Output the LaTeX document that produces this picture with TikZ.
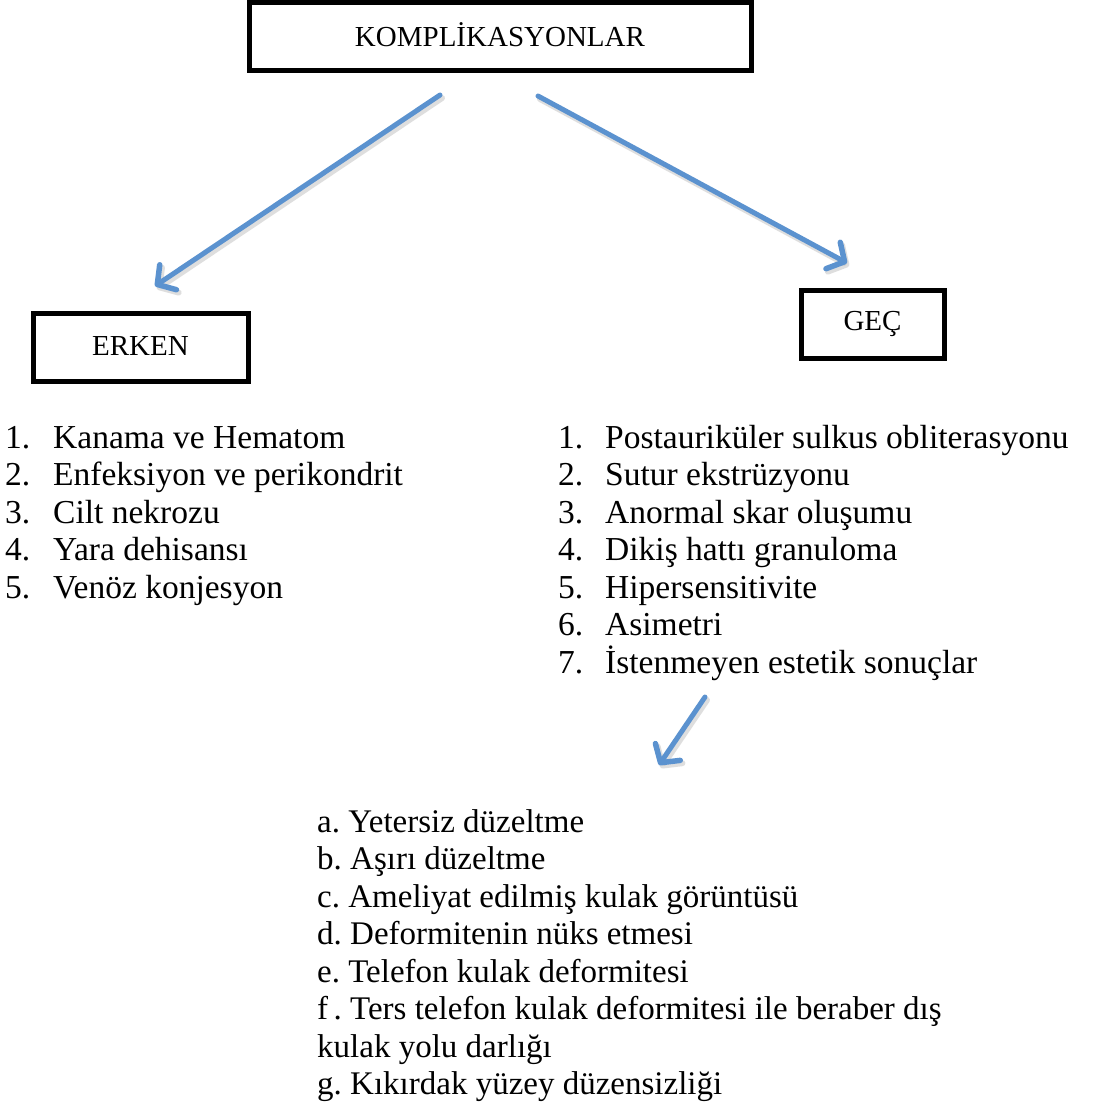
\documentclass[tikz,border=0pt]{standalone}
\usepackage{fontspec}
\setmainfont{Liberation Serif}
\usetikzlibrary{arrows.meta}
\frenchspacing
\definecolor{arrowblue}{RGB}{91,146,207}
\tikzset{
  boxnode/.style={draw=black, line width=5pt, minimum height=68pt, inner sep=0pt, font=\fontsize{29}{34}\selectfont},
  listtext/.style={anchor=base west, inner sep=0pt, font=\fontsize{33.5}{38}\selectfont},
  sublisttext/.style={anchor=base west, inner sep=0pt, font=\fontsize{33}{38}\selectfont},
  bluearrow/.style={draw=arrowblue, line width=5pt, line cap=round,
    -{Straight Barb[length=13pt,width=30pt,line width=5.5pt,round]}},
  arrowshadow/.style={draw=black!25, line width=6pt, opacity=0.5, line cap=round,
    -{Straight Barb[length=13pt,width=30pt,line width=6pt,round]}}
}
\begin{document}
\begin{tikzpicture}[x=1pt,y=-1pt]
\useasboundingbox[fill=white] (0,0) rectangle (1097,1106);
% boxes
\node[boxnode, minimum width=502pt] (top) at (500,36) {\raisebox{3pt}{KOMPLİKASYONLAR}};
\node[boxnode, minimum width=215pt] (erken) at (140.5,347) {\raisebox{2pt}{ERKEN}};
\node[boxnode, minimum width=143pt] (gec) at (872.5,324) {\raisebox{2pt}{GEÇ}};
% arrow anchor coordinates
\coordinate (a1s) at (440,95);
\coordinate (a1e) at (155,286);
\coordinate (a2s) at (538,96);
\coordinate (a2e) at (847,263);
\coordinate (a3s) at (705,697);
\coordinate (a3e) at (659,765);
% shadows
\draw[arrowshadow] ([shift={(2,3)}]a1s) -- ([shift={(2,3)}]a1e);
\draw[arrowshadow] ([shift={(2,3)}]a2s) -- ([shift={(2,3)}]a2e);
\draw[arrowshadow] ([shift={(2,3)}]a3s) -- ([shift={(2,3)}]a3e);
% arrows
\draw[bluearrow] (a1s) -- (a1e);
\draw[bluearrow] (a2s) -- (a2e);
\draw[bluearrow] (a3s) -- (a3e);
% left list
\foreach \n/\t [count=\i from 0] in {1/Kanama ve Hematom,2/Enfeksiyon ve perikondrit,3/Cilt nekrozu,4/Yara dehisansı,5/Venöz konjesyon}{
  \node[listtext] (ln\n) at (5,448+37.5*\i) {\n.};
  \node[listtext] (lt\n) at (53,448+37.5*\i) {\t};
}
% right list
\foreach \n/\t [count=\i from 0] in {1/Postauriküler sulkus obliterasyonu,2/Sutur ekstrüzyonu,3/Anormal skar oluşumu,4/Dikiş hattı granuloma,5/Hipersensitivite,6/Asimetri,7/İstenmeyen estetik sonuçlar}{
  \node[listtext] (rn\n) at (558,448+37.5*\i) {\n.};
  \node[listtext] (rt\n) at (605,448+37.5*\i) {\t};
}
% bottom list
\foreach \t [count=\i from 0] in {a. Yetersiz düzeltme,b. Aşırı düzeltme,c. Ameliyat edilmiş kulak görüntüsü,d. Deformitenin nüks etmesi,e. Telefon kulak deformitesi,f\,. Ters telefon kulak deformitesi ile beraber dış,kulak yolu darlığı,g. Kıkırdak yüzey düzensizliği}{
  \node[sublisttext] (b\i) at (317,832+37.5*\i) {\t};
}
\end{tikzpicture}
\end{document}
